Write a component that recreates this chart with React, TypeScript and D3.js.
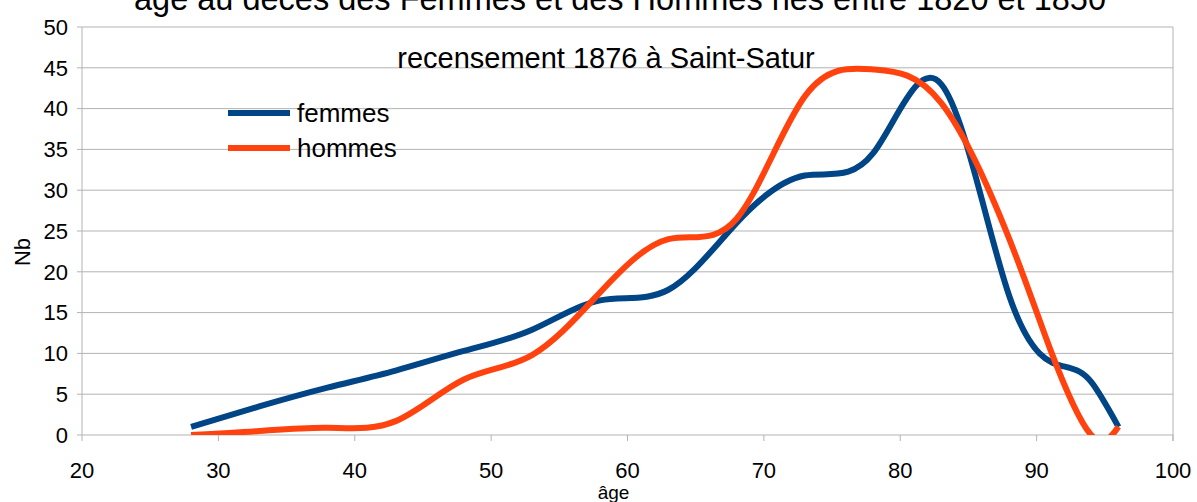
import React, { useEffect, useRef } from 'react';
import * as d3 from 'd3';

const femmesAges = [28, 33, 38, 43, 48, 53, 58, 63, 68, 73, 78, 83, 88, 92, 94, 96];
const femmes = [1, 3.5, 5.8, 7.9, 10.3, 12.9, 16.5, 17.8, 26, 31.8, 34.5, 43, 17, 8.4, 6.5, 1];
const hommesAges = [28, 33, 38, 43, 48, 53, 58, 63, 68, 73, 78, 83, 88, 91, 94, 96];
const hommes = [0, 0.5, 0.9, 1.7, 6.8, 9.8, 17.5, 24, 26.5, 41.5, 44.8, 40.7, 24, 10.5, 0, 1];
const xTicks = [20, 30, 40, 50, 60, 70, 80, 90, 100];
const yTicks = [0, 5, 10, 15, 20, 25, 30, 35, 40, 45, 50];

const series = [
  { name: 'femmes', ages: femmesAges, values: femmes, color: '#004586' },
  { name: 'hommes', ages: hommesAges, values: hommes, color: '#ff420e' },
];

const App = () => {
  const ref = useRef<SVGSVGElement>(null);

  useEffect(() => {
    const width = 1197;
    const height = 502;
    const margin = { top: 27, right: 24, bottom: 67, left: 82 };
    const font = '"Liberation Sans", Arial, sans-serif';

    const svg = d3.select(ref.current);
    svg.selectAll('*').remove();

    const x = d3.scaleLinear().domain([20, 100]).range([margin.left, width - margin.right]);
    const y = d3.scaleLinear().domain([0, 50]).range([height - margin.bottom, margin.top]);

    svg.append('defs')
      .append('clipPath')
      .attr('id', 'plot')
      .append('rect')
      .attr('x', margin.left)
      .attr('y', margin.top - 5)
      .attr('width', x(100) - margin.left)
      .attr('height', y(0) - margin.top + 5);

    // gridlines
    svg.append('g')
      .selectAll('line')
      .data(yTicks)
      .join('line')
      .attr('x1', margin.left - 5)
      .attr('x2', x(100))
      .attr('y1', (d) => y(d))
      .attr('y2', (d) => y(d))
      .attr('stroke', '#b3b3b3')
      .attr('stroke-width', 1);

    // axes frame
    svg.append('line')
      .attr('x1', x(20)).attr('x2', x(20))
      .attr('y1', y(50)).attr('y2', y(0))
      .attr('stroke', '#b3b3b3');
    svg.append('line')
      .attr('x1', x(100)).attr('x2', x(100))
      .attr('y1', y(50)).attr('y2', y(0) + 6)
      .attr('stroke', '#b3b3b3');

    svg.append('g')
      .selectAll('line')
      .data(xTicks)
      .join('line')
      .attr('x1', (d) => x(d))
      .attr('x2', (d) => x(d))
      .attr('y1', y(0))
      .attr('y2', y(0) + 6)
      .attr('stroke', '#b3b3b3');

    // tick labels
    svg.append('g')
      .selectAll('text')
      .data(yTicks)
      .join('text')
      .attr('x', margin.left - 14)
      .attr('y', (d) => y(d))
      .attr('dy', '0.35em')
      .attr('text-anchor', 'end')
      .attr('font-family', font)
      .attr('font-size', 22)
      .text((d) => d);

    svg.append('g')
      .selectAll('text')
      .data(xTicks)
      .join('text')
      .attr('x', (d) => x(d))
      .attr('y', y(0) + 43)
      .attr('text-anchor', 'middle')
      .attr('font-family', font)
      .attr('font-size', 22)
      .text((d) => d);

    // lines (cubic spline, clipped to the plot area)
    const lineFor = (ages: number[]) =>
      d3
        .line<number>()
        .x((d, i) => x(ages[i]))
        .y((d) => y(d))
        .curve(d3.curveNatural);

    svg.append('g')
      .attr('clip-path', 'url(#plot)')
      .selectAll('path')
      .data(series)
      .join('path')
      .attr('d', (s) => lineFor(s.ages)(s.values))
      .attr('fill', 'none')
      .attr('stroke', (s) => s.color)
      .attr('stroke-width', 6)
      .attr('stroke-linejoin', 'round');

    // legend
    const legend = svg.append('g')
      .selectAll('g')
      .data(series)
      .join('g')
      .attr('transform', (d, i) => `translate(228,${113 + i * 35})`);
    legend.append('line')
      .attr('x1', 0).attr('x2', 62)
      .attr('stroke', (s) => s.color)
      .attr('stroke-width', 6);
    legend.append('text')
      .attr('x', 69)
      .attr('dy', '0.35em')
      .attr('font-family', font)
      .attr('font-size', 26)
      .text((s) => s.name);

    // titles
    svg.append('text')
      .attr('x', 620)
      .attr('y', 10)
      .attr('text-anchor', 'middle')
      .attr('font-family', font)
      .attr('font-size', 32.5)
      .text('âge au décès des Femmes et des Hommes nés entre 1820 et 1850');

    svg.append('text')
      .attr('x', 606)
      .attr('y', 68)
      .attr('text-anchor', 'middle')
      .attr('font-family', font)
      .attr('font-size', 29)
      .text('recensement 1876 à Saint-Satur');

    svg.append('text')
      .attr('x', x(60) - 14)
      .attr('y', 499)
      .attr('text-anchor', 'middle')
      .attr('font-family', font)
      .attr('font-size', 19)
      .text('âge');

    svg.append('text')
      .attr('transform', `translate(30,252) rotate(-90)`)
      .attr('text-anchor', 'middle')
      .attr('font-family', font)
      .attr('font-size', 22)
      .text('Nb');
  }, []);

  return (
    <svg
      ref={ref}
      width={1197}
      height={502}
      style={{ position: 'absolute', left: 0, top: 0, background: '#fff' }}
    />
  );
};

export default App;
